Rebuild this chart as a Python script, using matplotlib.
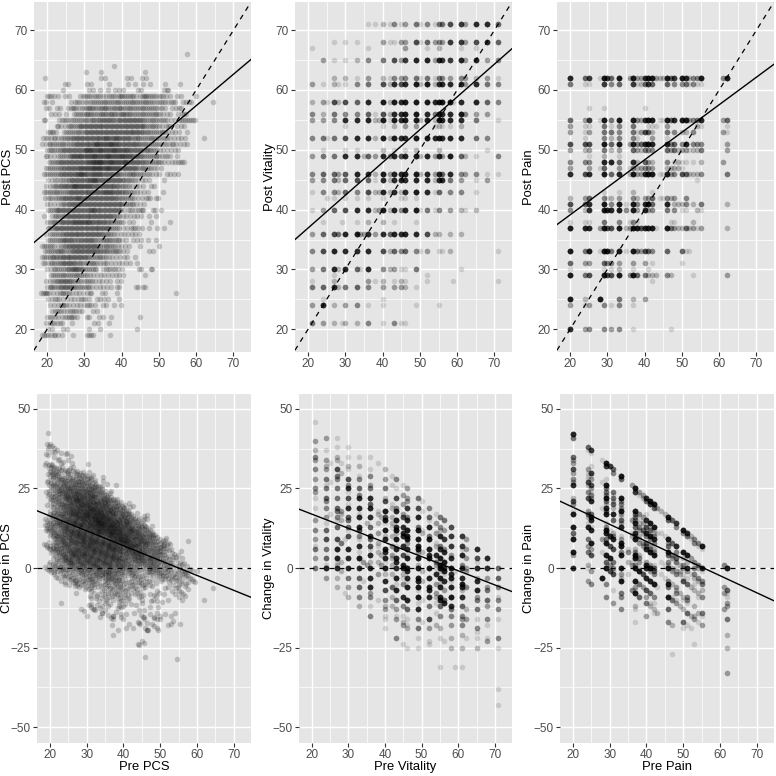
import numpy as np
import matplotlib
matplotlib.use('Agg')
import matplotlib.pyplot as plt

plt.rcParams['font.family'] = ['Liberation Sans', 'DejaVu Sans']

# counts per cell, base 36 digits, spaces are only for reading
pcs_pre = list(range(19, 66))
pcs_post = [66, 64, 63, 62, 61, 60, 59, 58, 57, 56, 55, 54, 53, 52, 51, 50, 49, 48, 47, 46, 45, 44, 43,
            42, 41, 40, 39, 38, 37, 36, 35, 34, 33, 32, 31, 30, 29, 28, 27, 26, 25, 24, 23, 22, 21, 20, 19]
# pre PCS is not a whole number, this is the fraction seen along each row
pcs_frac = [-0.5, 0.0, 0.4, 0.5, -0.3, 0.3, -0.1, 0.4, -0.4, 0.1, 0.3, -0.2, 0.45, 0.0, -0.35, 0.2,
            -0.15, 0.4, -0.4, 0.1, 0.35, -0.25, 0.05, 0.45, -0.1, -0.4, 0.25, 0.0, 0.4, -0.3, 0.15,
            -0.05, 0.35, -0.45, 0.2, 0.0, 0.4, -0.2, 0.1, -0.35, 0.3, -0.1, 0.45, 0.05, -0.3, 0.25, 0.0]
pcs_counts = [
    "00000 00000 00000 00000 00000 00000 00000 00001 00000 00",
    "00000 00000 00000 00001 00000 00000 00000 00000 00000 00",
    "00000 00000 01000 10000 00000 00100 00000 00000 00000 00",
    "10000 00000 00000 11000 00110 01100 00000 00000 00000 00",
    "00000 01100 00110 00010 00010 10101 00010 00100 00000 00",
    "00000 10000 00110 10101 11000 11000 00120 00000 00000 00",
    "01211 01100 12212 21122 13222 11322 21211 01100 01000 00",
    "20100 00112 12122 22222 22222 22222 12212 10112 00000 10",
    "01101 10122 12232 22322 23222 22222 21210 11200 00000 00",
    "00111 01012 22322 23232 23322 22222 22111 01120 00000 00",
    "20001 22122 22232 33332 33333 33222 22211 11222 20000 00",
    "00002 11222 33333 33333 33333 33322 22112 01110 00000 00",
    "02210 12222 23333 33333 33333 33222 22211 11010 00000 00",
    "12121 22233 33333 33434 33332 32222 22121 11110 00010 00",
    "11222 22223 33334 44444 43333 33222 22121 21111 00000 00",
    "02222 33333 34544 44444 44433 33232 21111 11000 00000 00",
    "02111 22244 43444 44444 44443 33222 22121 01000 00000 00",
    "01223 33333 33455 54444 44433 33222 22111 12200 00000 00",
    "01222 23333 34444 54444 43333 32222 11100 00000 00000 00",
    "12222 33334 44343 43333 32223 22121 11011 11000 00000 00",
    "01121 22333 33444 33333 33222 11110 00100 00000 00000 00",
    "01122 33344 44433 33333 32221 11101 10000 00000 00000 00",
    "12222 22333 33333 33443 33222 11110 00100 00000 00000 00",
    "12122 33334 33333 33333 22221 11120 20000 00000 00000 00",
    "01111 22333 33333 33333 33222 11100 00000 00000 00000 00",
    "00223 33333 33344 33333 33112 12200 20100 00000 00000 00",
    "10122 23333 33333 33332 21111 11010 10000 00000 00000 00",
    "01222 33334 44433 33322 22011 00001 00001 00000 00000 00",
    "02233 33333 33333 33322 11112 11010 10100 00000 00000 00",
    "01122 23333 33333 33222 11111 11000 00000 00000 00000 00",
    "01222 33332 33332 22322 21101 11010 10000 00000 00000 00",
    "22211 22333 33333 22222 11110 01000 01000 00000 00000 00",
    "12223 22233 33333 23222 21100 00011 00000 00000 00000 00",
    "12232 33333 33322 22211 11110 10000 00000 00000 00000 00",
    "21222 33332 22222 12111 11110 10000 00000 00000 00000 00",
    "01122 22334 32222 01212 11000 02002 00000 00000 00000 00",
    "00222 22222 22111 11111 11000 00100 00000 00000 00000 00",
    "01122 33322 21221 11110 11000 00000 00000 00000 00000 00",
    "01322 33322 22211 11110 20000 20200 00000 00000 00000 00",
    "23111 22211 11120 01100 10000 00000 00000 01000 00000 00",
    "01121 11111 21101 11100 10000 00000 00000 00000 00000 00",
    "00111 22111 11211 01101 01000 00000 00000 00000 00000 00",
    "00122 11221 10011 00000 00000 00000 00000 00000 00000 00",
    "01211 12221 00200 11010 00000 01000 00000 00000 00000 00",
    "01121 20010 00001 10010 00000 00000 00000 00000 00000 00",
    "01100 11000 00100 10000 00000 10000 00000 00000 00000 00",
    "22121 10010 00220 00010 00000 00000 00000 00000 00000 00",
]
# points under the top panel's range, they only show in the change panel
pcs_low_pre = [43.9, 45.7, 45.8, 37.2, 38.4, 40.8, 41.5, 42.7, 44.5, 46.5, 46.6, 49.0, 49.5, 48.4, 49.0,
               50.0, 52.0, 52.9, 53.6, 55.5, 37.2, 37.2, 39.3, 40.6, 33.6, 30.0, 29.3, 28.6, 32.0, 34.3,
               35.7, 22.9, 45.5, 45.6, 43.0, 45.5, 54.0, 52.0, 56.0]
pcs_low_change = [-24.0, -23.7, -28.0, -21.0, -19.4, -18.8, -17.6, -18.8, -17.6, -19.6, -19.6, -19.0, -19.5,
                  -15.6, -16.0, -15.0, -18.0, -17.6, -16.5, -17.6, -16.0, -15.0, -15.5, -14.4, -15.5, -15.0,
                  -13.4, -12.8, -13.0, -14.0, -14.7, -11.0, -15.5, -16.0, -14.0, -13.3, -14.0, -10.2, -10.2]

vit_pre = [21, 24, 25, 27, 28, 29, 30, 33, 34, 35, 36, 38, 39, 40, 42, 43, 45, 46, 49, 50,
           52, 54, 55, 56, 58, 59, 61, 62, 65, 68, 71]
vit_post = [71, 68, 67, 65, 62, 61, 58, 56, 55, 54, 52, 50, 49, 46, 45, 43, 42, 40, 38, 36, 33, 30, 29,
            28, 27, 25, 24, 21]
vit_counts = [
    "00000 00000 11021 41351 41558 0a3cc 6",
    "00010 01100 00031 13381 6343a 0a38c 6",
    "10000 00000 10000 00300 10200 01010 0",
    "03010 01200 40050 83ad0 d3daa 0d3d3 4",
    "00020 02100 30021 43451 51543 04323 1",
    "31021 01400 50082 c8cf2 f2ccc 0c3c5 4",
    "23182 08600 c00f2 fcff0 fcfff 1c0d6 4",
    "42050 04400 61082 ccff0 c5fcc 0f433 0",
    "33040 0cc00 d22f1 fcff2 f2fdd 0c050 1",
    "00000 01000 00010 20330 01211 02000 0",
    "45150 08c00 c20f2 fccf0 fcfcd 0c054 0",
    "01000 01100 00020 10120 00200 00001 0",
    "35050 0cc02 630d4 d8df2 d3d3f 06210 4",
    "46063 07d00 c20f3 ddff2 d3d6c 04341 1",
    "34052 06800 610c2 cdcd0 d2dc5 03013 0",
    "14042 06400 822d2 c2cf0 c1604 04010 0",
    "00110 01100 10010 01110 00000 00000 0",
    "13060 08c00 c23f2 d4df1 51403 02120 0",
    "01000 10100 20020 10010 00000 00000 0",
    "36085 0df33 c30c6 dcdc0 82202 02000 0",
    "480d0 0cc00 c0082 64641 30112 00000 1",
    "350d2 0d610 c0042 31150 00000 01000 0",
    "00010 00000 00000 00000 10000 00000 0",
    "10020 00000 31020 12100 10000 10000 1",
    "560c2 05600 40030 33210 00000 00000 0",
    "01000 00000 00010 00000 00000 00000 0",
    "3d020 03400 10010 00010 00100 00000 0",
    "53020 12200 40010 41100 00000 00000 0",
]

pain_pre = [20, 24, 25, 28, 29, 30, 31, 33, 35, 36, 37, 38, 39, 40, 41, 42, 43, 44, 45, 46,
            47, 48, 49, 50, 51, 52, 53, 54, 55, 61, 62]
pain_post = [62, 61, 57, 55, 54, 53, 52, 51, 50, 49, 48, 47, 46, 45, 43, 42, 41, 40, 38, 37, 33, 31, 30,
             29, 28, 25, 24, 20]
pain_counts = [
    "d6a1f a6f03 f33cf f322f 6a0fc 244f4 f",
    "5110a 04600 a126a 60006 04045 14110 0",
    "00101 00000 00010 00000 00000 00000 0",
    "63a1f 05f00 f43cf f011f 6c0ff 345d3 6",
    "31105 01400 50001 11003 00000 00210 1",
    "31305 05400 51386 20005 04022 04003 1",
    "01004 02400 41000 30001 00000 00000 0",
    "8880f 06f03 d46df d000d 4604d 04440 3",
    "32305 02300 63254 40006 35233 12250 3",
    "00102 00100 00000 00000 00000 00000 0",
    "4440d 0d600 c2063 20004 01211 01023 0",
    "30316 00301 42344 30002 22210 00000 0",
    "c8c0f 06d02 f33df f011f 34086 22240 5",
    "00000 00000 00000 00000 00000 00100 0",
    "00001 00100 20000 10000 00000 00000 0",
    "23604 12300 42033 60114 23004 00000 0",
    "86c0f 04f10 f40df 6000d 02224 02050 2",
    "42c0f ddf40 f30d3 40005 04011 00210 0",
    "11105 00401 41000 00000 11000 02000 0",
    "fdd3f 88f23 ff8dd f100f 53226 23130 2",
    "f5f1f f5f10 f5386 40006 00061 10000 0",
    "63306 44300 30030 10000 00010 00000 0",
    "10001 01200 10001 00000 00000 00000 0",
    "f580f 88f04 f6052 22004 20000 01000 3",
    "00000 00000 00000 10000 00000 00000 0",
    "f20f0 00500 20030 00000 00000 00000 0",
    "31304 01400 10000 00000 00000 00000 0",
    "c3404 03400 10000 00000 10000 00000 0",
]

# fitted lines as (y at x=16.5, y at x=74.7), read at the panel edges
line_x = [16.5, 74.7]
post_lines = [[34.5, 65.1], [35.0, 66.9], [37.5, 64.3]]
change_lines = [[18.0, -9.2], [18.5, -7.4], [21.0, -10.3]]
measures = ['PCS', 'Vitality', 'Pain']

# panel boxes in pixels: left, right, and where the y title sits
top_boxes = [(34, 251, 8), (295, 512, 270), (557, 774, 529)]
bottom_boxes = [(37, 251, 7), (299, 512, 269), (560, 774, 529)]
FIG = 776.0
DOT = 16
ALPHAS = [0.19, 0.13, 0.13]


def expand(pre, post, counts, frac=None):
    xs, ys = [], []
    for k, (y, row) in enumerate(zip(post, counts)):
        row = row.replace(' ', '')
        for x, c in zip(pre, row):
            n = int(c, 36)
            for j in range(n):
                # PCS cells are one unit wide, so their points share the width of the cell
                xs.append(x + frac[k] + (j + 0.5) / n - 0.5 if frac else x)
                ys.append(y)
    return np.array(xs, float), np.array(ys, float)


def style(ax, ylim, yticks, yminor, ylabel, label_x, xlabel=None):
    ax.set_facecolor('#E5E5E5')
    ax.set_xlim(16.5, 74.7)
    ax.set_ylim(*ylim)
    ax.set_xticks(range(20, 71, 10))
    ax.set_xticks(range(25, 71, 10), minor=True)
    ax.set_yticks(yticks)
    ax.set_yticks(yminor, minor=True)
    ax.grid(which='major', color='white', lw=1.0, zorder=0)
    ax.grid(which='minor', color='white', lw=0.5, zorder=0)
    ax.set_axisbelow(True)
    for s in ax.spines.values():
        s.set_visible(False)
    ax.tick_params(which='major', length=3, width=0.8, color='#333333', labelcolor='#4D4D4D',
                   labelsize=8.5, pad=1.5)
    ax.tick_params(axis='x', which='major', pad=1)
    ax.tick_params(which='minor', length=0)
    ax.set_ylabel(ylabel, fontsize=9.4, color='black', va='center')
    ax.yaxis.set_label_coords(label_x, 0.5)
    if xlabel:
        ax.set_xlabel(xlabel, fontsize=9.4, color='black', labelpad=0)


fig = plt.figure(figsize=(7.76, 7.76), dpi=100)
data = [(pcs_pre, pcs_post, pcs_counts, pcs_frac), (vit_pre, vit_post, vit_counts), (pain_pre, pain_post, pain_counts)]

for i, name in enumerate(measures):
    x, y = expand(*data[i])

    l, r, t = top_boxes[i]
    ax = fig.add_axes([l / FIG, 1 - 352 / FIG, (r - l) / FIG, 350 / FIG])
    style(ax, (16.2, 74.7), range(20, 71, 10), range(25, 71, 10), 'Post ' + name, (t - l) / (r - l))
    ax.scatter(x, y, s=DOT, color='black', alpha=ALPHAS[i], linewidths=0, zorder=2)
    ax.plot(line_x, line_x, color='black', lw=0.9, ls=(0, (4, 4)), zorder=3)
    ax.plot(line_x, post_lines[i], color='black', lw=1.0, zorder=3)

    l, r, t = bottom_boxes[i]
    ax = fig.add_axes([l / FIG, 1 - 743 / FIG, (r - l) / FIG, 349 / FIG])
    style(ax, (-55, 54.7), [-50, -25, 0, 25, 50], [-37.5, -12.5, 12.5, 37.5], 'Change in ' + name,
          (t - l) / (r - l), 'Pre ' + name)
    ax.scatter(x, y - x, s=DOT, color='black', alpha=ALPHAS[i], linewidths=0, zorder=2)
    if name == 'PCS':
        ax.scatter(pcs_low_pre, pcs_low_change, s=DOT, color='black', alpha=ALPHAS[i], linewidths=0, zorder=2)
    ax.axhline(0, color='black', lw=0.9, ls=(0, (4, 4)), zorder=3)
    ax.plot(line_x, change_lines[i], color='black', lw=1.0, zorder=3)

fig.savefig('out.png', dpi=100)
